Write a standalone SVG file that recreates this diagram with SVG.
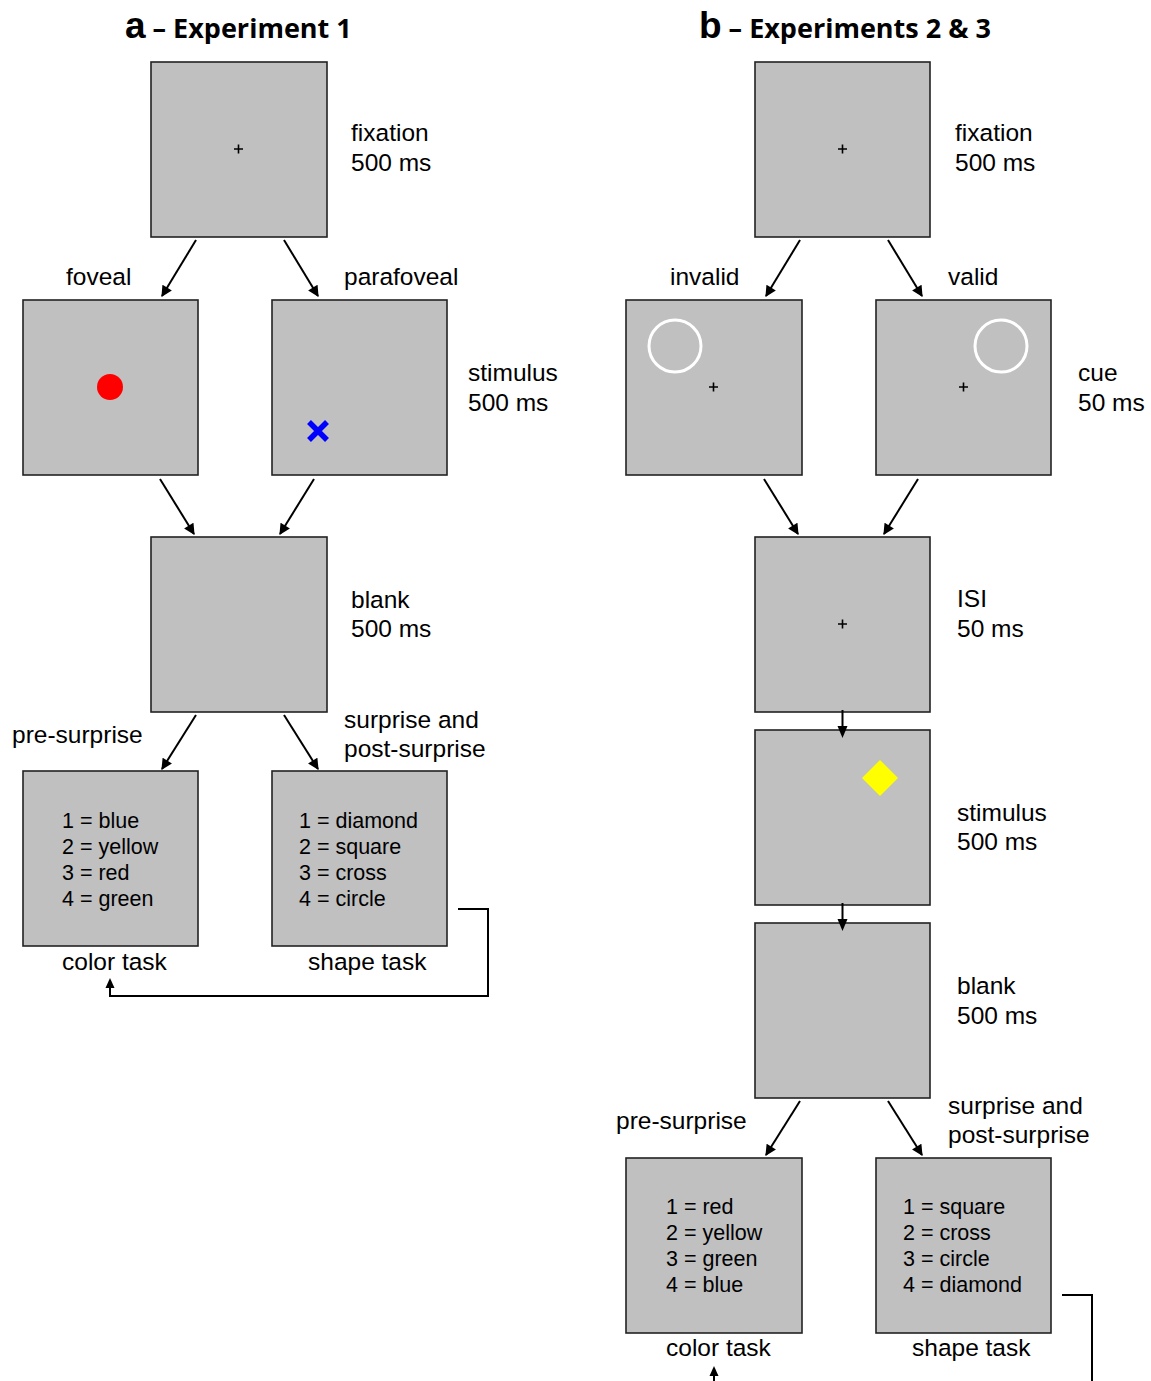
<svg xmlns="http://www.w3.org/2000/svg" width="1151" height="1381" viewBox="0 0 1151 1381">
  <defs>
    <marker id="ah" viewBox="0 0 10 10" refX="9" refY="5" markerWidth="6" markerHeight="5.5" orient="auto" markerUnits="strokeWidth">
      <path d="M0,0 L10,5 L0,10 z" fill="#000"/>
    </marker>
    <style>
      .scr { fill: #c0c0c0; stroke: #222; stroke-width: 1.6; }
      .lbl { font-family: "Liberation Sans", Arial, sans-serif; font-size: 24.5px; fill: #000; }
      .key { font-family: "Liberation Sans", Arial, sans-serif; font-size: 21.5px; fill: #000; }
      .ttl { font-family: "Open Sans", "Lato", sans-serif; font-weight: bold; font-size: 27px; fill: #000; }
      .big { font-family: "Liberation Sans", Arial, sans-serif; font-weight: bold; font-size: 37px; }
      .fix { stroke: #000; stroke-width: 1.6; }
      .conn { fill: none; stroke: #000; stroke-width: 2; marker-end: url(#ah); }
      .loop { fill: none; stroke: #000; stroke-width: 2; }
    </style>
  </defs>

  <!-- panel titles -->
  <text class="ttl" x="125" y="38"><tspan class="big">a</tspan> – Experiment 1</text>
  <text class="ttl" x="699" y="38"><tspan class="big">b</tspan> – Experiments 2 &amp; 3</text>

  <!-- ===== Experiment 1 ===== -->
  <g id="a-fixation">
    <rect class="scr" x="151" y="62" width="176" height="175"/>
    <path class="fix" d="M234,149 h9 M238.5,144.5 v9"/>
    <text class="lbl" x="351" y="141">fixation</text>
    <text class="lbl" x="351" y="171">500 ms</text>
  </g>
  <g id="a-foveal">
    <rect class="scr" x="23" y="300" width="175" height="175"/>
    <circle cx="110" cy="387" r="13" fill="#ff0000"/>
    <text class="lbl" x="66" y="285">foveal</text>
  </g>
  <g id="a-parafoveal">
    <rect class="scr" x="272" y="300" width="175" height="175"/>
    <path d="M309,422 L327,440 M327,422 L309,440" stroke="#0000ff" stroke-width="5.5"/>
    <text class="lbl" x="344" y="285">parafoveal</text>
    <text class="lbl" x="468" y="381">stimulus</text>
    <text class="lbl" x="468" y="411">500 ms</text>
  </g>
  <g id="a-blank">
    <rect class="scr" x="151" y="537" width="176" height="175"/>
    <text class="lbl" x="351" y="608">blank</text>
    <text class="lbl" x="351" y="637">500 ms</text>
  </g>
  <g id="a-color">
    <rect class="scr" x="23" y="771" width="175" height="175"/>
    <text class="lbl" x="12" y="743">pre-surprise</text>
    <text class="key" x="62" y="828">1 = blue</text>
    <text class="key" x="62" y="854">2 = yellow</text>
    <text class="key" x="62" y="880">3 = red</text>
    <text class="key" x="62" y="906">4 = green</text>
    <text class="lbl" x="62" y="970">color task</text>
  </g>
  <g id="a-shape">
    <rect class="scr" x="272" y="771" width="175" height="175"/>
    <text class="lbl" x="344" y="728">surprise and</text>
    <text class="lbl" x="344" y="757">post-surprise</text>
    <text class="key" x="299" y="828">1 = diamond</text>
    <text class="key" x="299" y="854">2 = square</text>
    <text class="key" x="299" y="880">3 = cross</text>
    <text class="key" x="299" y="906">4 = circle</text>
    <text class="lbl" x="308" y="970">shape task</text>
  </g>

  <!-- ===== Experiments 2 & 3 ===== -->
  <g id="b-fixation">
    <rect class="scr" x="755" y="62" width="175" height="175"/>
    <path class="fix" d="M838,149 h9 M842.5,144.5 v9"/>
    <text class="lbl" x="955" y="141">fixation</text>
    <text class="lbl" x="955" y="171">500 ms</text>
  </g>
  <g id="b-invalid">
    <rect class="scr" x="626" y="300" width="176" height="175"/>
    <circle cx="675" cy="346" r="26" fill="none" stroke="#fff" stroke-width="3"/>
    <path class="fix" d="M709,387 h9 M713.5,382.5 v9"/>
    <text class="lbl" x="670" y="285">invalid</text>
  </g>
  <g id="b-valid">
    <rect class="scr" x="876" y="300" width="175" height="175"/>
    <circle cx="1001" cy="346" r="26" fill="none" stroke="#fff" stroke-width="3"/>
    <path class="fix" d="M959,387 h9 M963.5,382.5 v9"/>
    <text class="lbl" x="948" y="285">valid</text>
    <text class="lbl" x="1078" y="381">cue</text>
    <text class="lbl" x="1078" y="411">50 ms</text>
  </g>
  <g id="b-isi">
    <rect class="scr" x="755" y="537" width="175" height="175"/>
    <path class="fix" d="M838,624 h9 M842.5,619.5 v9"/>
    <text class="lbl" x="957" y="607">ISI</text>
    <text class="lbl" x="957" y="637">50 ms</text>
  </g>
  <g id="b-stimulus">
    <rect class="scr" x="755" y="730" width="175" height="175"/>
    <path d="M880,760 L898,778 L880,796 L862,778 z" fill="#ffff00"/>
    <text class="lbl" x="957" y="821">stimulus</text>
    <text class="lbl" x="957" y="850">500 ms</text>
  </g>
  <g id="b-blank">
    <rect class="scr" x="755" y="923" width="175" height="175"/>
    <text class="lbl" x="957" y="994">blank</text>
    <text class="lbl" x="957" y="1024">500 ms</text>
  </g>
  <g id="b-color">
    <rect class="scr" x="626" y="1158" width="176" height="175"/>
    <text class="lbl" x="616" y="1129">pre-surprise</text>
    <text class="key" x="666" y="1214">1 = red</text>
    <text class="key" x="666" y="1240">2 = yellow</text>
    <text class="key" x="666" y="1266">3 = green</text>
    <text class="key" x="666" y="1292">4 = blue</text>
    <text class="lbl" x="666" y="1356">color task</text>
  </g>
  <g id="b-shape">
    <rect class="scr" x="876" y="1158" width="175" height="175"/>
    <text class="lbl" x="948" y="1114">surprise and</text>
    <text class="lbl" x="948" y="1143">post-surprise</text>
    <text class="key" x="903" y="1214">1 = square</text>
    <text class="key" x="903" y="1240">2 = cross</text>
    <text class="key" x="903" y="1266">3 = circle</text>
    <text class="key" x="903" y="1292">4 = diamond</text>
    <text class="lbl" x="912" y="1356">shape task</text>
  </g>

  <!-- connectors -->
  <g id="connectors">
    <line class="conn" x1="196" y1="240" x2="162" y2="296"/>
    <line class="conn" x1="284" y1="240" x2="318" y2="296"/>
    <line class="conn" x1="160" y1="479" x2="194" y2="534"/>
    <line class="conn" x1="314" y1="479" x2="280" y2="534"/>
    <line class="conn" x1="196" y1="715" x2="162" y2="769"/>
    <line class="conn" x1="284" y1="715" x2="318" y2="769"/>
    <path class="loop" d="M458,909 H488 V996 H110 V986"/>
    <path d="M110,978 L105.5,988 L114.5,988 z" fill="#000"/>

    <line class="conn" x1="800" y1="240" x2="766" y2="296"/>
    <line class="conn" x1="888" y1="240" x2="922" y2="296"/>
    <line class="conn" x1="764" y1="479" x2="798" y2="534"/>
    <line class="conn" x1="918" y1="479" x2="884" y2="534"/>
    <line class="loop" x1="842.5" y1="710" x2="842.5" y2="728"/>
    <path d="M842.5,738 L837.5,726 L847.5,726 z" fill="#000"/>
    <line class="loop" x1="842.5" y1="903" x2="842.5" y2="921"/>
    <path d="M842.5,931 L837.5,919 L847.5,919 z" fill="#000"/>
    <line class="conn" x1="800" y1="1101" x2="766" y2="1155"/>
    <line class="conn" x1="888" y1="1101" x2="922" y2="1155"/>
    <path class="loop" d="M1062,1295 H1092 V1381"/>
    <line class="loop" x1="714" y1="1381" x2="714" y2="1374"/>
    <path d="M714,1366 L709.5,1376 L718.5,1376 z" fill="#000"/>
  </g>
</svg>
